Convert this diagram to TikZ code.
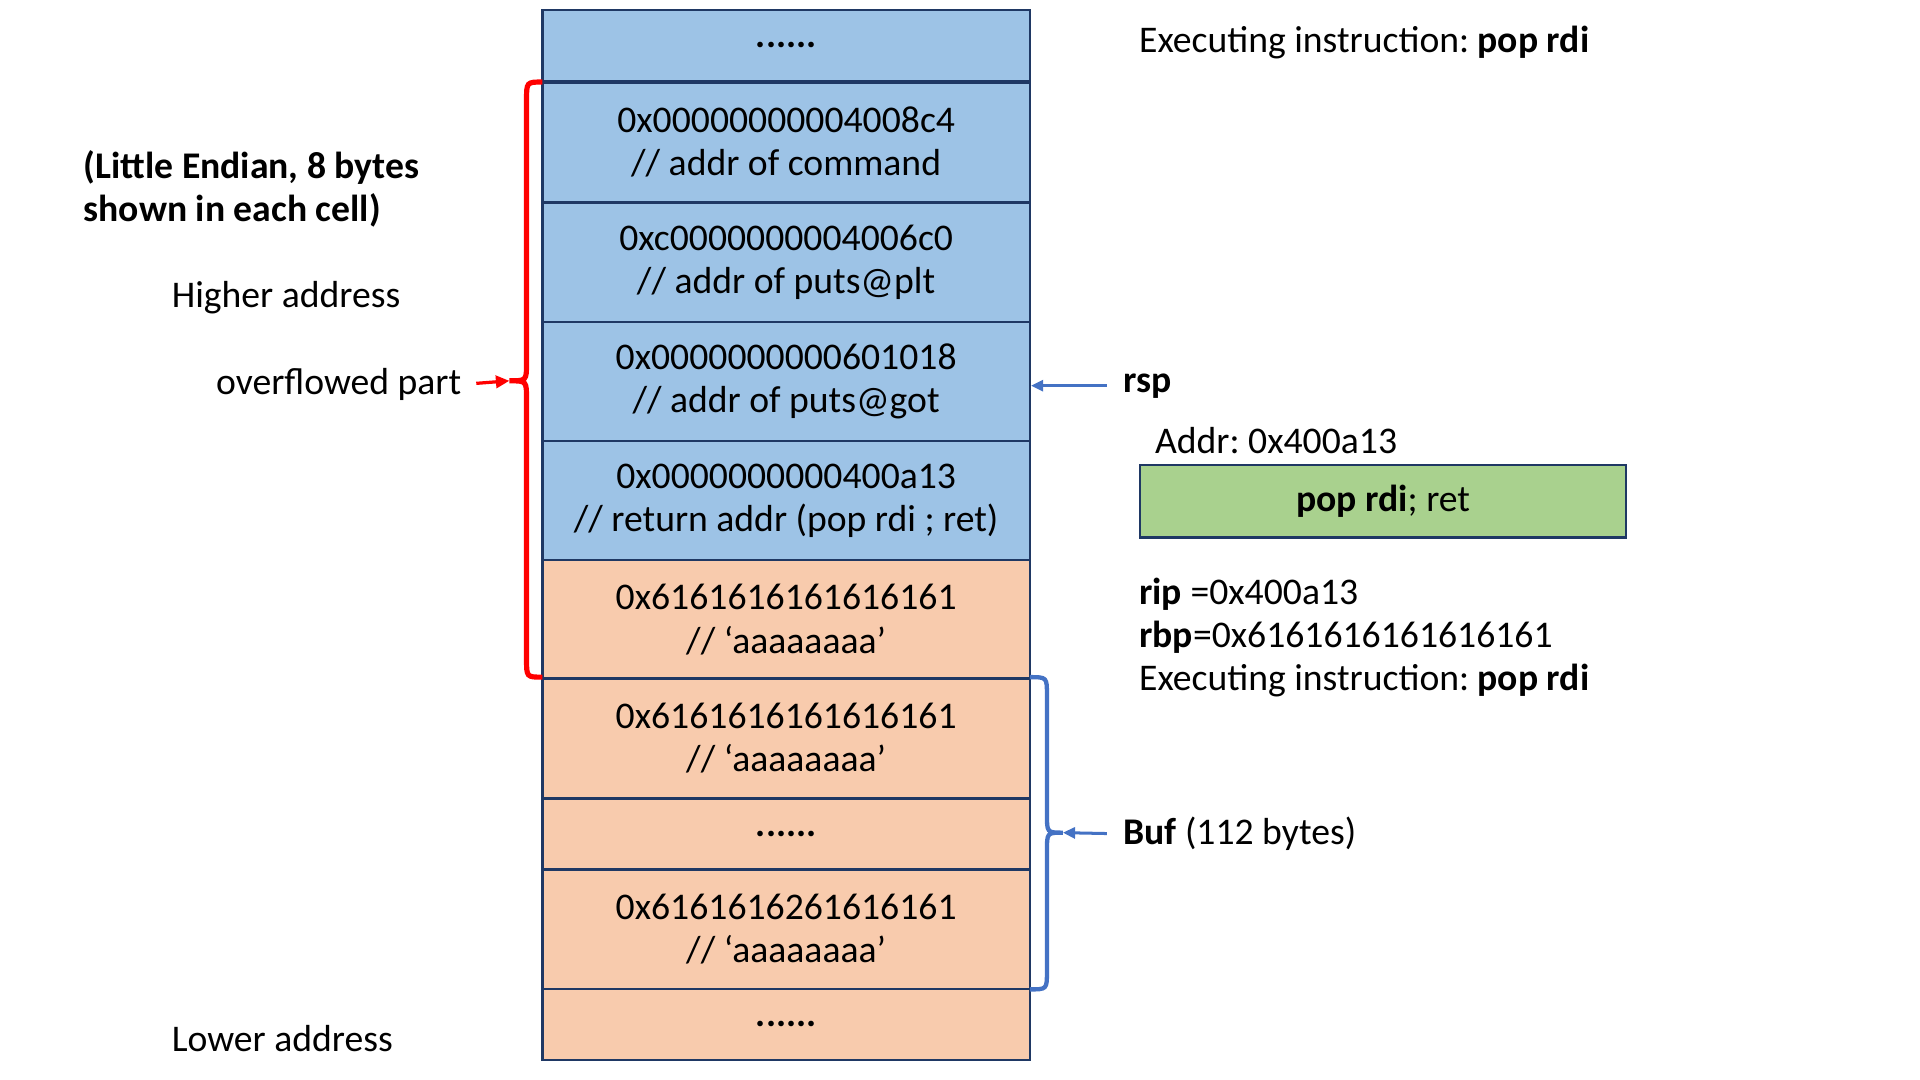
\documentclass[tikz,border=0pt]{standalone}
\usepackage{fontspec}
\setmainfont{Carlito}
\usepackage{xcolor}
\usepackage{tikz}
\usetikzlibrary{arrows.meta}
\definecolor{cellblue}{RGB}{157,195,230}
\definecolor{cellorange}{RGB}{248,203,173}
\definecolor{cellgreen}{RGB}{169,209,142}
\definecolor{cellline}{RGB}{31,56,100}
\definecolor{bracered}{RGB}{255,0,0}
\definecolor{braceblue}{RGB}{68,114,196}
\frenchspacing

\begin{document}
\begin{tikzpicture}[x=0.2mm, y=-0.2mm,
    font=\fontsize{17.5}{20}\selectfont,
    hi/.style={rectangle, draw=cellline, line width=1.1pt, fill=cellblue,
               minimum width=79.6mm, minimum height=19.5mm,
               align=center, inner sep=0pt},
    lo/.style={hi, fill=cellorange},
    hidots/.style={hi, minimum height=11.6mm},
    lodots/.style={lo, minimum height=11.6mm},
    gadget/.style={rectangle, draw=cellline, line width=1.1pt, fill=cellgreen,
                   minimum width=79.4mm, minimum height=11.8mm, inner sep=0pt},
    txt/.style={inner sep=0pt, anchor=west},
    redbrace/.style={line width=2.4pt, color=bracered},
    bluebrace/.style={line width=2pt, color=braceblue},
    redarr/.style={-{Triangle[length=2.2mm,width=2mm]}, line width=1.5pt, color=bracered},
    bluearr/.style={-{Triangle[length=2mm,width=1.8mm]}, line width=1.4pt, color=braceblue}]

    \useasboundingbox (0,0) rectangle (1568,882);

    % Stiva
    \node[hidots] (top)     at (642,37)     {\textbf{......}};
    \node[hi]     (cmd)     at (642,116)    {0x00000000004008c4\\// addr of command};
    \node[hi]     (plt)     at (642,214)    {0xc0000000004006c0\\// addr of puts@plt};
    \node[hi]     (got)     at (642,311.5)  {0x0000000000601018\\// addr of puts@got};
    \node[hi]     (ret)     at (642,409)    {0x0000000000400a13\\// return addr (pop rdi ; ret)};
    \node[lo]     (pad)     at (642,506)    {0x6161616161616161\\// ‘aaaaaaaa’};
    \node[lo]     (bufa)    at (642,603)    {0x6161616161616161\\// ‘aaaaaaaa’};
    \node[lodots] (bufdots) at (642,681)    {\textbf{......}};
    \node[lo]     (bufb)    at (642,759)    {0x6161616261616161\\// ‘aaaaaaaa’};
    \node[lodots] (bottom)  at (642,836.5)  {\textbf{......}};

    % Stanga
    \node[txt, align=left, font=\fontsize{17.5}{20}\selectfont\bfseries] (endian)
        at (68,154) {(Little Endian, 8 bytes\\shown in each cell)};
    \node[txt] (high) at (140,243) {Higher address};
    \node[txt, anchor=east] (ovf) at (377,314) {overflowed part};
    \node[txt] (low)  at (140,848) {Lower address};

    % Dreapta
    \node[txt] (exec) at (930,35)  {Executing instruction: \textbf{pop rdi}};
    \node[txt] (rsp)  at (917,315) {\textbf{rsp}};
    \node[txt] (addr) at (943,360) {Addr: 0x400a13};
    \node[gadget] (gad) at (1129.5,409.5) {\textbf{pop rdi}; ret};
    \node[txt, align=left] (regs) at (930,521)
        {\textbf{rip} =0x400a13\\\textbf{rbp}=0x6161616161616161\\Executing instruction: \textbf{pop rdi}};
    \node[txt] (buf)  at (917,681) {\textbf{Buf} (112 bytes)};

    % Acolade
    \coordinate (ovtip)  at (416,311);
    \coordinate (buftip) at (868,680);
    \draw[redbrace] (443,67) .. controls (430,67) .. (430,82) -- (430,296)
        .. controls (430,311) .. (ovtip) .. controls (430,311) .. (430,326)
        -- (430,538) .. controls (430,553) .. (443,553);
    \draw[bluebrace] (841,553) .. controls (855,553) .. (855,568) -- (855,665)
        .. controls (855,680) .. (buftip) .. controls (855,680) .. (855,695)
        -- (855,793) .. controls (855,808) .. (841,808);

    % Sageti
    \draw[redarr, shorten <=2.4mm] (ovf.east) -- (ovtip);
    \draw[bluearr, shorten <=2.6mm] (rsp.west) -- (rsp.west -| got.east);
    \draw[bluearr, shorten <=2.6mm] (buf.west) -- (buftip);

\end{tikzpicture}
\end{document}
